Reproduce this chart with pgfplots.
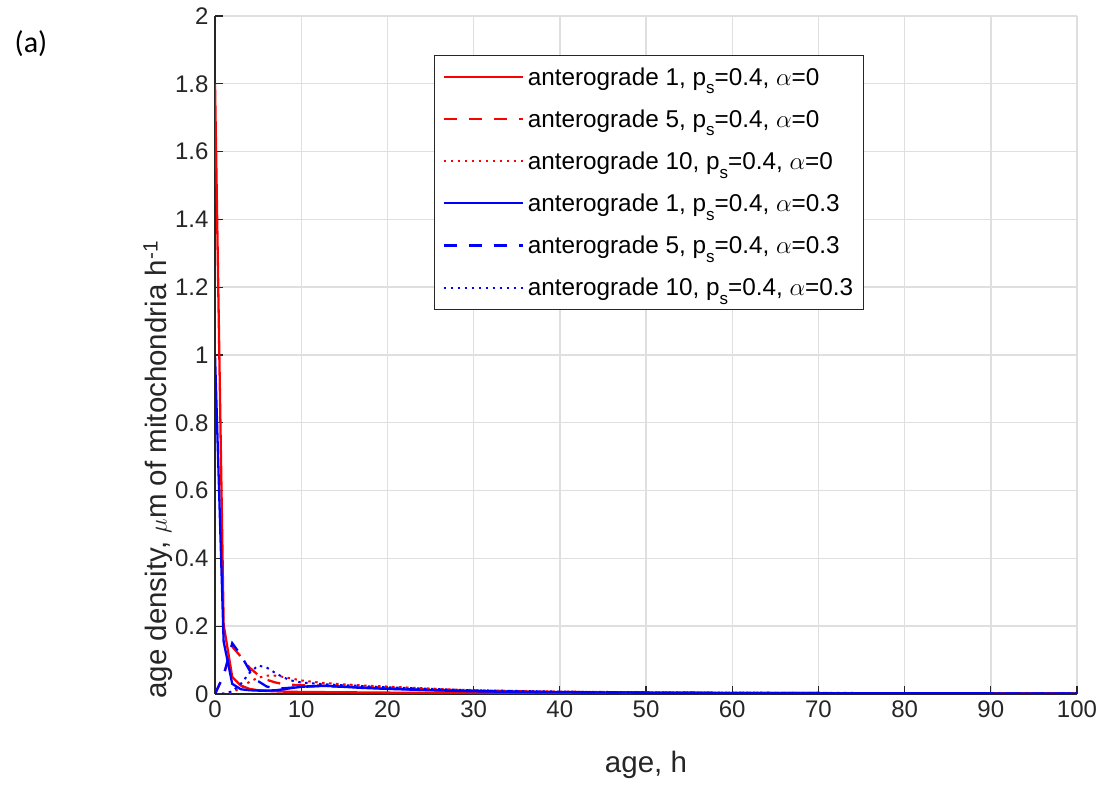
\documentclass[border=0pt]{standalone}
\usepackage{fontspec}
\setmainfont{Liberation Sans}
\newfontfamily\labelfont{Carlito}
\usepackage{pgfplots}
\pgfplotsset{compat=1.18}

\definecolor{axisgray}{RGB}{38,38,38}
\definecolor{gridgray}{RGB}{223,223,223}
% lowered subscript s
\newcommand{\sub}[1]{\raisebox{-0.36em}{\fontsize{17}{17}\selectfont #1}}

\begin{document}
\begin{tikzpicture}[x=1pt,y=1pt]
\useasboundingbox (0,0) rectangle (1103,786);
\node[font=\labelfont\fontsize{30}{34}\selectfont] at (31,742) {(a)};
\begin{axis}[
  at={(215pt,92pt)}, anchor=south west,
  scale only axis, width=862pt, height=678pt,
  xmin=0, xmax=100, ymin=0, ymax=2,
  xtick={0,10,...,100}, ytick={0,0.2,...,2},
  axis x line*=bottom, axis y line*=left,
  axis line style={axisgray, line width=1.3pt},
  tick style={axisgray, line width=1.3pt},
  tick align=inside, major tick length=8pt,
  grid=major, major grid style={gridgray, line width=1.4pt},
  /pgf/number format/assume math mode=true,
  tick label style={font=\fontsize{24}{28}\selectfont, text=axisgray},
  yticklabel style={xshift=-3pt, /pgf/number format/fixed},
  xticklabel style={yshift=-3pt},
  label style={font=\fontsize{29.5}{34}\selectfont, text=axisgray},
  xlabel={age, h},
  xlabel style={at={(axis description cs:0.5,0)}, anchor=center, yshift=-71pt},
  ylabel={age density, $\mu$m of mitochondria h\textsuperscript{-1}},
  ylabel style={at={(axis description cs:-0.066,-0.012)}, anchor=west, rotate=0},
  legend cell align=left,
  legend style={at={(axis description cs:0.254,0.9425)}, anchor=north west,
    draw=axisgray, line width=1pt, fill=white,
    font=\fontsize{24.3}{28}\selectfont, text=black,
    row sep=19pt, inner xsep=8pt, inner ysep=10pt,
    /tikz/every odd column/.append style={column sep=2pt}},
  legend image code/.code={\draw[#1] (0pt,0pt) -- (79pt,0pt);},
  every axis plot/.append style={line width=2.3pt},
]
% anterograde 1, alpha = 0
\addplot[red] table {
0 1.8
1 0.205
2 0.05
3 0.025
4 0.015
5 0.011
6 0.009
8 0.007
10 0.006
15 0.005
20 0.004
30 0.003
40 0.002
60 0.0015
100 0.001
};
\addlegendentry{anterograde 1, p\sub{s}=0.4, $\alpha$=0}
% anterograde 5, alpha = 0
\addplot[red, dash pattern=on 13pt off 12pt] table {
0 0
1 0.055
2 0.14
3 0.11
4 0.078
5 0.056
6 0.042
7 0.034
8 0.029
9 0.027
10 0.026
12 0.025
14 0.023
16 0.021
18 0.019
20 0.017
25 0.013
30 0.01
35 0.008
40 0.006
50 0.004
60 0.003
80 0.002
100 0.0015
};
\addlegendentry{anterograde 5, p\sub{s}=0.4, $\alpha$=0}
% anterograde 10, alpha = 0
\addplot[red, line width=2pt, dash pattern=on 2.5pt off 4.5pt] table {
0 0
1 0.001
2 0.005
3 0.018
4 0.036
5 0.048
6 0.054
7 0.054
8 0.05
9 0.045
10 0.04
12 0.034
14 0.030
16 0.027
18 0.024
20 0.022
24 0.017
28 0.013
32 0.01
40 0.007
50 0.005
60 0.004
70 0.003
80 0.0025
100 0.0015
};
\addlegendentry{anterograde 10, p\sub{s}=0.4, $\alpha$=0}
% anterograde 1, alpha = 0.3
\addplot[blue] table {
0 1.0
1 0.155
2 0.03
3 0.014
4 0.011
5 0.01
6 0.01
7 0.011
8 0.014
9 0.018
10 0.021
11 0.023
12 0.024
13 0.024
14 0.023
15 0.021
17 0.018
20 0.015
25 0.011
30 0.008
35 0.006
40 0.005
50 0.004
60 0.003
80 0.002
100 0.0015
};
\addlegendentry{anterograde 1, p\sub{s}=0.4, $\alpha$=0.3}
% anterograde 5, alpha = 0.3
\addplot[blue, dash pattern=on 13pt off 12pt] table {
0 0
1 0.055
2 0.15
3 0.115
4 0.07
5 0.038
6 0.022
7 0.017
8 0.017
9 0.019
10 0.021
12 0.023
14 0.022
16 0.02
18 0.018
20 0.016
25 0.012
30 0.009
40 0.006
50 0.004
60 0.003
80 0.002
100 0.0015
};
\addlegendentry{anterograde 5, p\sub{s}=0.4, $\alpha$=0.3}
% anterograde 10, alpha = 0.3
\addplot[blue, line width=2pt, dash pattern=on 2.5pt off 4.5pt] table {
0 0
1 0.001
2 0.008
3 0.03
4 0.062
5 0.084
6 0.078
7 0.062
8 0.048
9 0.039
10 0.034
12 0.03
14 0.027
16 0.025
18 0.022
20 0.02
25 0.015
30 0.011
35 0.009
40 0.007
50 0.005
60 0.004
80 0.0025
100 0.0015
};
\addlegendentry{anterograde 10, p\sub{s}=0.4, $\alpha$=0.3}
\end{axis}
\end{tikzpicture}
\end{document}
